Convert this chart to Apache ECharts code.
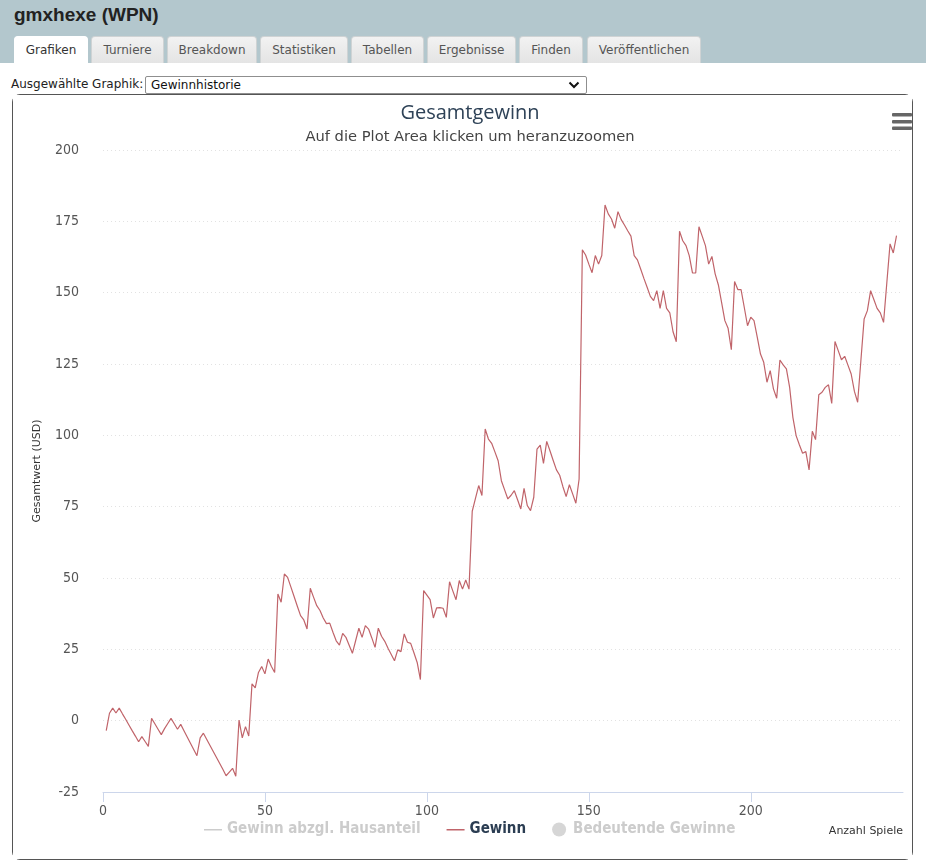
<!DOCTYPE html>
<html>
<head>
<meta charset="utf-8">
<script src="https://cdn.jsdelivr.net/npm/echarts@6/dist/echarts.min.js"></script>
<style>
  html, body { margin:0; padding:0; background:#fff; width:926px; height:861px; overflow:hidden; font-family:"DejaVu Sans", Verdana, sans-serif; }
  #header { position:absolute; left:0; top:0; width:926px; height:63px; background:#b3c7cd; }
  #pname { position:absolute; left:14px; top:4px; font-family:"Liberation Sans", Arial, sans-serif; font-weight:bold; font-size:19px; color:#222; }
  .tab { position:absolute; top:36px; height:27px; box-sizing:border-box; border:1px solid #cfd3d4; border-bottom:none; border-radius:4px 4px 0 0; background:linear-gradient(#f2f2f2,#e4e4e4); font-size:12px; color:#555; text-align:center; line-height:26px; }
  .tab.active { background:#fff; color:#333; border-color:#fff; }
  #sel-label { position:absolute; left:11px; top:77px; font-size:12px; color:#222; }
  #sel { position:absolute; left:145px; top:76px; width:442px; height:18px; box-sizing:border-box; border:1px solid #8f8f8f; border-radius:2px; font-size:12px; color:#111; line-height:16px; padding-left:5px; background:#fff; }
  #sel svg { position:absolute; right:6px; top:4px; }
  #box { position:absolute; left:12px; top:94px; width:901px; height:766px; box-sizing:border-box; border:1px solid #555; border-radius:8px; background:#fff; }
  #chart { position:absolute; left:0; top:0; width:899px; height:764px; }
</style>
</head>
<body>
<div id="header">
  <div id="pname">gmxhexe (WPN)</div>
  <div class="tab active" style="left:14px;width:74px;">Grafiken</div>
  <div class="tab" style="left:91px;width:73px;">Turniere</div>
  <div class="tab" style="left:167px;width:90px;">Breakdown</div>
  <div class="tab" style="left:260px;width:88px;">Statistiken</div>
  <div class="tab" style="left:351px;width:73px;">Tabellen</div>
  <div class="tab" style="left:427px;width:89px;">Ergebnisse</div>
  <div class="tab" style="left:519px;width:64px;">Finden</div>
  <div class="tab" style="left:587px;width:114px;">Veröffentlichen</div>
</div>
<div id="sel-label">Ausgewählte Graphik:</div>
<div id="sel">Gewinnhistorie<svg width="12" height="8" viewBox="0 0 12 8"><path d="M1.5 1.5 L6 6 L10.5 1.5" stroke="#111" stroke-width="2" fill="none"/></svg></div>
<div id="box"><div id="chart"></div></div>
<script>
// Gesamtgewinn (USD) per game, game 1..245
const gewinn = [
  -3.5, 2.6, 4.4, 2.7, 4.4, 2.4, 0.5, -1.5, -3.5, -5.4,
  -7.4, -5.6, -7.3, -9, 0.8, -1.1, -3, -4.9, -2.8, -1,
  0.8, -1.1, -3, -1.3, -3.5, -5.7, -7.9, -10.1, -12.3, -6,
  -4.4, -6.5, -8.6, -10.7, -12.8, -14.9, -17, -19.3, -18, -16.7,
  -19.5, 0.2, -6, -2.1, -5.4, 12.9, 11.5, 16.9, 19, 16.4,
  21.6, 19, 16.9, 44.4, 41.5, 51.4, 50.2, 46.9, 43.5, 40.1,
  36.8, 35.3, 32.1, 46.4, 43.3, 40.3, 38.6, 36, 34, 34.2,
  31, 28, 26.5, 30.6, 29.2, 26.4, 23.6, 28, 32.4, 29.2,
  33.3, 32.1, 29, 25.7, 32.4, 29.6, 27.8, 25.4, 23.2, 21,
  24.8, 24.2, 30.4, 27.5, 27.1, 23.8, 20.4, 14.4, 45.6, 44,
  42.4, 36, 39.5, 39.6, 39.4, 36.2, 48.7, 45.5, 42.4, 49.1,
  46.1, 49.3, 46.1, 73.4, 77.9, 82.4, 78.9, 102.2, 98.7, 97.2,
  94.2, 91.1, 84.1, 80.9, 77.7, 79, 80.6, 77.4, 74.2, 81.4,
  75.4, 73.6, 78.3, 95.2, 96.6, 90.2, 97.9, 94.6, 91.2, 87.9,
  86, 82, 78.5, 82.7, 79.5, 76.2, 84.7, 165, 163.2, 160,
  157, 163, 160, 163, 180.7, 177.6, 175.8, 172.6, 178.4, 175.6,
  173.7, 171.7, 169.8, 163, 161.5, 158.3, 155, 151.9, 148.7, 147.2,
  150.7, 144.5, 150.7, 144.5, 142.9, 136.3, 132.8, 171.5, 168.2, 166.5,
  163, 156.9, 156.9, 173.1, 169.8, 166.5, 160, 162.7, 156.6, 152.7,
  146.5, 140.2, 137.5, 130, 153.9, 151.1, 151.1, 144.8, 138.4, 141.4,
  140.2, 134.4, 128.5, 125.6, 118.6, 122.7, 116.3, 113, 126.4, 124.7,
  123.3, 116.8, 106.3, 99.9, 96.7, 93.7, 94.3, 87.9, 101.4, 98.5,
  114.2, 115.1, 116.8, 117.7, 111.2, 132.9, 129.7, 126.5, 127.7, 124.6,
  121.5, 115.4, 111.6, 126.2, 140.8, 143.7, 150.7, 147.6, 144.5, 142.9,
  139.6, 153.4, 167.1, 163.9, 170
];
const xTicks = [0, 50, 100, 150, 200];
const legendNames = ['Gewinn abzgl. Hausanteil', 'Gewinn', 'Bedeutende Gewinne'];
const titleText = 'Gesamtgewinn';
const subtitleText = 'Auf die Plot Area klicken um heranzuzoomen';
const yAxisTitle = 'Gesamtwert (USD)';
const xAxisTitle = 'Anzahl Spiele';

const pairs = gewinn.map((v, i) => [i + 1, v]);
const narrow = '"Liberation Sans Narrow", "DejaVu Sans Condensed", "Arial Narrow", sans-serif';
const lineIcon = 'path://M0,0 L0.01,0 M0,6.5 L18,6.5 L18,8 L0,8 Z M17.99,14 L18,14';

const chart = echarts.init(document.getElementById('chart'), null, { renderer: 'canvas' });
chart.setOption({
  animation: false,
  backgroundColor: '#fff',
  grid: { left: 90, top: 55, width: 800, height: 642, containLabel: false },
  graphic: [
    { type: 'text', x: 457, y: 8, style: { text: titleText, align: 'center', font: '20px "Open Sans", "DejaVu Sans", sans-serif', fill: '#2e4257' }, z: 10 },
    { type: 'text', x: 457, y: 35, style: { text: subtitleText, align: 'center', font: '14.7px "DejaVu Sans", sans-serif', fill: '#444' }, z: 10 },
    { type: 'text', right: 9, top: 731, style: { text: xAxisTitle, font: '11px "DejaVu Sans", sans-serif', fill: '#333' }, z: 10 },
    { type: 'rect', x: 879, y: 18, shape: { width: 20, height: 3.4, r: 1 }, style: { fill: '#666' } },
    { type: 'rect', x: 879, y: 25, shape: { width: 20, height: 3.4, r: 1 }, style: { fill: '#666' } },
    { type: 'rect', x: 879, y: 31.5, shape: { width: 20, height: 3.4, r: 1 }, style: { fill: '#666' } }
  ],
  legend: {
    left: 191, top: 727, padding: 0,
    itemGap: 26, itemWidth: 18, itemHeight: 14,
    inactiveColor: '#cccccc',
    textStyle: { fontFamily: narrow, fontWeight: 'bold', fontSize: 15, color: '#2b3d52' },
    data: [
      { name: legendNames[0], icon: lineIcon },
      { name: legendNames[1], icon: lineIcon },
      { name: legendNames[2], icon: 'circle' }
    ],
    selected: { 'Gewinn abzgl. Hausanteil': false, 'Gewinn': true, 'Bedeutende Gewinne': false }
  },
  xAxis: {
    type: 'value', min: 0, max: 247, interval: 50,
    axisLine: { show: true, onZero: false, lineStyle: { color: '#ccd6eb', width: 1 } },
    axisTick: { show: true, length: 10, lineStyle: { color: '#ccd6eb' }, customValues: xTicks },
    axisLabel: { color: '#555', fontFamily: narrow, fontSize: 14, margin: 12, customValues: xTicks },
    splitLine: { show: false }
  },
  yAxis: {
    type: 'value', min: -25, max: 200, interval: 25,
    name: yAxisTitle, nameLocation: 'middle', nameGap: 60, nameRotate: 90,
    nameTextStyle: { color: '#333', fontSize: 11, fontFamily: '"DejaVu Sans", sans-serif' },
    axisLine: { show: false }, axisTick: { show: false },
    axisLabel: { color: '#555', fontFamily: narrow, fontSize: 14, margin: 24 },
    splitLine: { show: true, lineStyle: { color: '#e2e2e2', type: [1, 3], width: 1 } }
  },
  series: [
    { name: 'Gewinn abzgl. Hausanteil', type: 'line', data: [], symbol: 'none', color: '#aaaaaa', lineStyle: { width: 1 } },
    { name: 'Gewinn', type: 'line', data: pairs, symbol: 'none', showSymbol: false, color: '#c0646a', lineStyle: { width: 1.2, color: '#c0646a' } },
    { name: 'Bedeutende Gewinne', type: 'scatter', data: [], symbol: 'circle', color: '#aaaaaa' }
  ]
});
</script>
</body>
</html>
